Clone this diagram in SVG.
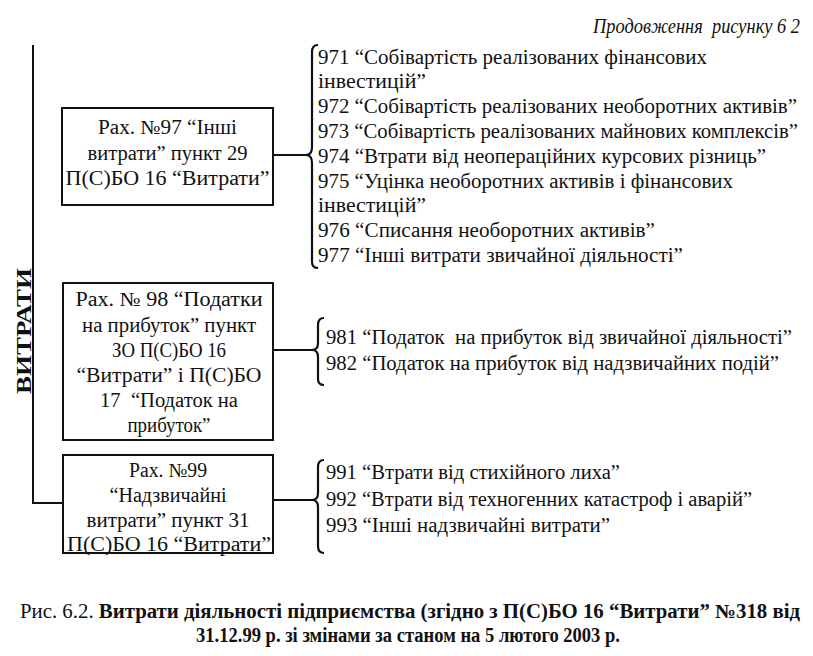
<svg xmlns="http://www.w3.org/2000/svg" width="813" height="656" viewBox="0 0 813 656">
<style>
text{font-family:"Liberation Serif","DejaVu Serif",serif}
.t{font-size:20px;fill:#111}
.c{text-anchor:middle}
.box{fill:#fff;stroke:#111;stroke-width:2}
.ln{fill:none;stroke:#111;stroke-width:2}
.br{fill:none;stroke:#111;stroke-width:2.2}
</style>
<rect width="813" height="656" fill="#fff"/>
<text class="t" x="800" y="33" text-anchor="end" font-style="italic" font-size="17" textLength="207" lengthAdjust="spacingAndGlyphs" xml:space="preserve">Продовження  рисунку 6 2</text>
<text class="t" font-weight="bold" font-size="26" text-anchor="middle" transform="translate(31,331) rotate(-90)" textLength="126" lengthAdjust="spacingAndGlyphs">ВИТРАТИ</text>
<g id="connectors">
<path class="ln" d="M33,45 V503 H63"/>
<path class="ln" d="M273,155 H307"/>
<path class="ln" d="M273,350 H312"/>
<path class="ln" d="M273,500 H312"/>
<path class="br" d="M318,45 Q312,45 312,52 L312,147 Q312,155 306,155 Q312,155 312,163 L312,262 Q312,268 318,268"/>
<path class="br" d="M324,318 Q318,318 318,325 L318,343 Q318,350 312,350 Q318,350 318,357 L318,379 Q318,385 324,385"/>
<path class="br" d="M324,460 Q318,460 318,467 L318,493 Q318,500 312,500 Q318,500 318,507 L318,546 Q318,553 324,553"/>
</g>
<g id="node97">
<rect class="box" x="62" y="108" width="211" height="97"/>
<text class="t c" x="167.5" y="134" textLength="139" lengthAdjust="spacingAndGlyphs">Рах. №97 “Інші</text>
<text class="t c" x="167.5" y="160" textLength="160" lengthAdjust="spacingAndGlyphs">витрати” пункт 29</text>
<text class="t c" x="167.5" y="185" textLength="204" lengthAdjust="spacingAndGlyphs">П(С)БО 16 “Витрати”</text>
</g>
<g id="node98">
<rect class="box" x="63" y="283" width="210" height="157"/>
<text class="t c" x="169" y="306" textLength="187" lengthAdjust="spacingAndGlyphs">Рах. № 98 “Податки</text>
<text class="t c" x="169" y="332" textLength="174" lengthAdjust="spacingAndGlyphs">на прибуток” пункт</text>
<text class="t c" x="169" y="357" textLength="114" lengthAdjust="spacingAndGlyphs">ЗО П(С)БО 16</text>
<text class="t c" x="169" y="382" textLength="185" lengthAdjust="spacingAndGlyphs">“Витрати” і П(С)БО</text>
<text class="t c" x="169" y="407" textLength="138" lengthAdjust="spacingAndGlyphs" xml:space="preserve">17  “Податок на</text>
<text class="t c" x="169" y="432" textLength="83" lengthAdjust="spacingAndGlyphs">прибуток”</text>
</g>
<g id="node99">
<rect class="box" x="63" y="455" width="210" height="98"/>
<text class="t c" x="168" y="477" textLength="78" lengthAdjust="spacingAndGlyphs">Рах. №99</text>
<text class="t c" x="168" y="502" textLength="117" lengthAdjust="spacingAndGlyphs">“Надзвичайні</text>
<text class="t c" x="168" y="527" textLength="163" lengthAdjust="spacingAndGlyphs">витрати” пункт 31</text>
<text class="t c" x="169" y="551" textLength="204" lengthAdjust="spacingAndGlyphs">П(С)БО 16 “Витрати”</text>
</g>
<g id="list97">
<text class="t" x="318" y="64" textLength="389" lengthAdjust="spacingAndGlyphs">971 “Собівартість реалізованих фінансових</text>
<text class="t" x="318" y="88" textLength="108" lengthAdjust="spacingAndGlyphs">інвестицій”</text>
<text class="t" x="318" y="113" textLength="479" lengthAdjust="spacingAndGlyphs">972 “Собівартість реалізованих необоротних активів”</text>
<text class="t" x="318" y="138" textLength="480" lengthAdjust="spacingAndGlyphs">973 “Собівартість реалізованих майнових комплексів”</text>
<text class="t" x="318" y="163" textLength="448" lengthAdjust="spacingAndGlyphs">974 “Втрати від неопераційних курсових різниць”</text>
<text class="t" x="318" y="188" textLength="415" lengthAdjust="spacingAndGlyphs">975 “Уцінка необоротних активів і фінансових</text>
<text class="t" x="318" y="212" textLength="108" lengthAdjust="spacingAndGlyphs">інвестицій”</text>
<text class="t" x="318" y="237" textLength="337" lengthAdjust="spacingAndGlyphs">976 “Списання необоротних активів”</text>
<text class="t" x="318" y="262" textLength="365" lengthAdjust="spacingAndGlyphs">977 “Інші витрати звичайної діяльності”</text>
</g>
<g id="list98">
<text class="t" x="326" y="344" textLength="466" lengthAdjust="spacingAndGlyphs" xml:space="preserve">981 “Податок  на прибуток від звичайної діяльності”</text>
<text class="t" x="326" y="370" textLength="453" lengthAdjust="spacingAndGlyphs">982 “Податок на прибуток від надзвичайних подій”</text>
</g>
<g id="list99">
<text class="t" x="326" y="479" textLength="294" lengthAdjust="spacingAndGlyphs">991 “Втрати від стихійного лиха”</text>
<text class="t" x="326" y="506" textLength="426" lengthAdjust="spacingAndGlyphs">992 “Втрати від техногенних катастроф і аварій”</text>
<text class="t" x="326" y="532" textLength="284" lengthAdjust="spacingAndGlyphs">993 “Інші надзвичайні витрати”</text>
</g>
<text class="t" x="410" y="618" text-anchor="middle" font-size="20" textLength="780" lengthAdjust="spacingAndGlyphs">Рис. 6.2. <tspan font-weight="bold">Витрати діяльності підприємства (згідно з П(С)БО 16 “Витрати” №318 від</tspan></text>
<text class="t" x="408" y="642" text-anchor="middle" font-size="20" font-weight="bold" textLength="424" lengthAdjust="spacingAndGlyphs">31.12.99 р. зі змінами за станом на 5 лютого 2003 р.</text>
</svg>
